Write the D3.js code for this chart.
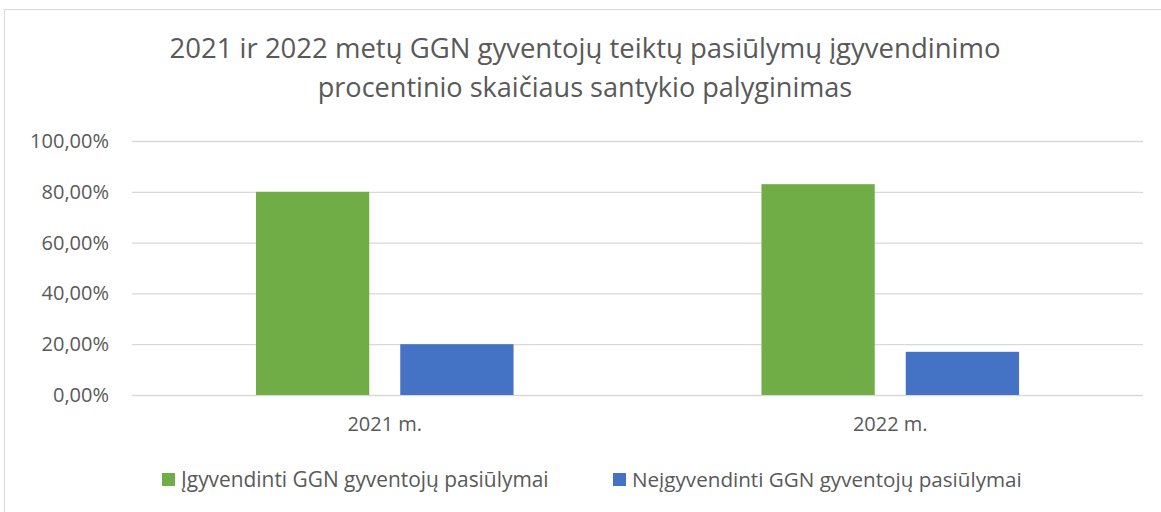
<!DOCTYPE html>
<html>
<head>
<meta charset="utf-8">
<script src="https://cdn.jsdelivr.net/npm/d3@7"></script>
<style>
  html, body { margin: 0; padding: 0; background: #fff; }
  svg { display: block; }
  text { font-family: "Open Sans", Lato, sans-serif; fill: #595959; }
</style>
</head>
<body>
<svg id="chart" width="1161" height="512"></svg>
<script>
const titleLines = ["2021 ir 2022 metų GGN gyventojų teiktų pasiūlymų įgyvendinimo",
                    "procentinio skaičiaus santykio palyginimas"];
const categories = ["2021 m.", "2022 m."];
const seriesNames = ["Įgyvendinti GGN gyventojų pasiūlymai", "Neįgyvendinti GGN gyventojų pasiūlymai"];
const implemented = [0.80, 0.83];
const notImplemented = [0.20, 0.17];
const yTicks = [0, 0.2, 0.4, 0.6, 0.8, 1.0];
const colors = ["#70AD47", "#4472C4"];

const svg = d3.select("#chart");
const m = { left: 132, right: 1143, top: 141, bottom: 395 };
const FF = "'Open Sans', Lato, sans-serif";

// chart border
svg.append("rect").attr("x", 4.5).attr("y", 9.5).attr("width", 1180).attr("height", 520)
  .attr("fill", "#fff").attr("stroke", "#D9D9D9").attr("stroke-width", 1);

function fit(sel, target) {
  sel.each(function() {
    const s = d3.select(this);
    const w = this.getComputedTextLength();
    const fs = parseFloat(s.attr("font-size"));
    s.attr("font-size", fs * target / w);
  });
}

// title
const t1 = svg.append("text").attr("x", 585).attr("y", 58).attr("text-anchor", "middle")
  .attr("font-size", 25).text(titleLines[0]);
fit(t1, 831);
const t2 = svg.append("text").attr("x", 585).attr("y", 97).attr("text-anchor", "middle")
  .attr("font-size", +t1.attr("font-size") * 0.985).text(titleLines[1]);

const y = d3.scaleLinear().domain([0, 1]).range([m.bottom, m.top]);
const x0 = d3.scaleBand().domain(categories).range([m.left, m.right]).paddingInner(0).paddingOuter(0);
const x1 = d3.scaleBand().domain(seriesNames).range([0, x0.bandwidth()]).paddingInner(0.215).paddingOuter(0.859);

// gridlines + y labels
const fmt = v => d3.format(".2f")(v * 100).replace(".", ",") + "%";
const yAxis = d3.axisLeft(y).tickValues(yTicks).tickSize(-(m.right - m.left)).tickFormat(fmt).tickPadding(23);
const gy = svg.append("g").attr("transform", `translate(${m.left},0)`).call(yAxis);
gy.select(".domain").remove();
gy.selectAll(".tick line").attr("stroke", "#D9D9D9").attr("stroke-width", 1.3);
gy.selectAll(".tick text").attr("font-size", 20).attr("fill", "#595959").style("font-family", FF);

// bars
const data = categories.map((c, i) => ({ c, vals: [implemented[i], notImplemented[i]] }));
const groups = svg.append("g").selectAll("g").data(data).join("g")
  .attr("transform", d => `translate(${x0(d.c)},0)`);
groups.selectAll("rect").data(d => d.vals.map((v, j) => ({ v, s: seriesNames[j], j })))
  .join("rect")
  .attr("x", d => x1(d.s)).attr("width", x1.bandwidth())
  .attr("y", d => y(d.v)).attr("height", d => y(0) - y(d.v))
  .attr("fill", d => colors[d.j]);

// x axis labels
const xAxis = d3.axisBottom(x0).tickSize(0).tickPadding(22);
const gx = svg.append("g").attr("transform", `translate(0,${m.bottom})`).call(xAxis);
gx.select(".domain").remove();
gx.selectAll(".tick text").attr("font-size", 20).attr("fill", "#595959").style("font-family", FF);

// legend
const legendX = [162, 613];
const legendW = [368, 390];
const lg = svg.append("g").selectAll("g").data(seriesNames).join("g")
  .attr("transform", (d, i) => `translate(${legendX[i]},473)`);
lg.append("rect").attr("width", 13).attr("height", 13).attr("fill", (d, i) => colors[i]);
lg.append("text").attr("x", 19).attr("y", 14).attr("font-size", 18).text(d => d)
  .each(function(d, i) { fit(d3.select(this), legendW[i]); });
</script>
</body>
</html>
